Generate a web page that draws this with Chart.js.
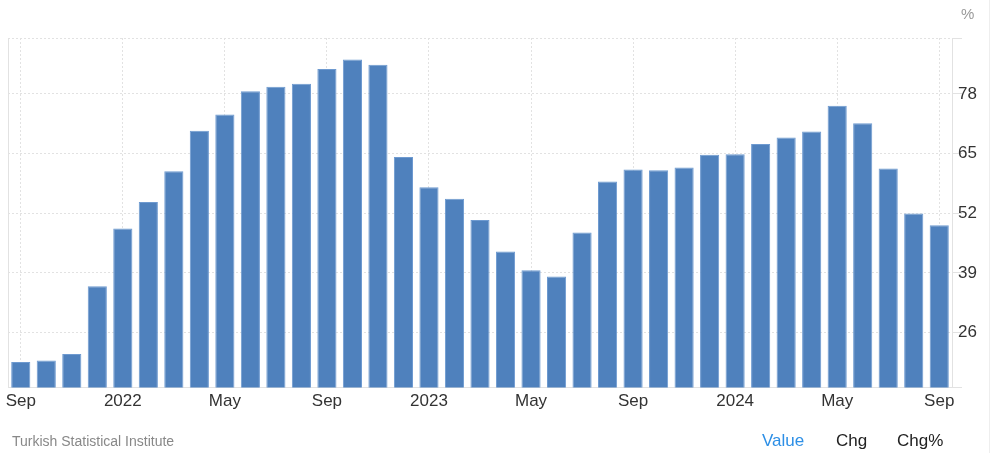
<!DOCTYPE html>
<html>
<head>
<meta charset="utf-8">
<script src="https://cdn.jsdelivr.net/npm/chart.js@4/dist/chart.umd.min.js"></script>
<style>
  html, body { margin: 0; padding: 0; background: #fff; }
  #wrap { position: relative; width: 1000px; height: 453px; font-family: "Liberation Sans", Arial, sans-serif; }
  #wrap canvas { position: absolute; left: 0; top: 0; }
  .txt { position: absolute; white-space: nowrap; }
  #unit { left: 961px; top: 5px; font-size: 15px; color: #999; }
  #source { left: 12px; top: 433px; font-size: 14px; color: #888; }
  #value { left: 762px; top: 431px; font-size: 17px; color: #2d8fe6; }
  #chg { left: 836px; top: 431px; font-size: 17px; color: #222; }
  #chgp { left: 897px; top: 431px; font-size: 17px; color: #222; }
  #edge { position: absolute; left: 989px; top: 0; width: 1px; height: 453px; background: #eee; }
</style>
</head>
<body>
<div id="wrap">
  <canvas id="inflationChart" width="1000" height="453"></canvas>
  <div class="txt" id="unit">%</div>
  <div class="txt" id="source">Turkish Statistical Institute</div>
  <div class="txt" id="value">Value</div>
  <div class="txt" id="chg">Chg</div>
  <div class="txt" id="chgp">Chg%</div>
  <div id="edge"></div>
</div>
<script>
// monthly readings, Sep 2021 - Sep 2024
const months = [
  'Sep 2021', 'Oct 2021', 'Nov 2021', 'Dec 2021',
  'Jan 2022', 'Feb 2022', 'Mar 2022', 'Apr 2022', 'May 2022', 'Jun 2022',
  'Jul 2022', 'Aug 2022', 'Sep 2022', 'Oct 2022', 'Nov 2022', 'Dec 2022',
  'Jan 2023', 'Feb 2023', 'Mar 2023', 'Apr 2023', 'May 2023', 'Jun 2023',
  'Jul 2023', 'Aug 2023', 'Sep 2023', 'Oct 2023', 'Nov 2023', 'Dec 2023',
  'Jan 2024', 'Feb 2024', 'Mar 2024', 'Apr 2024', 'May 2024', 'Jun 2024',
  'Jul 2024', 'Aug 2024', 'Sep 2024'
];
const inflation = [
  19.58, 19.89, 21.31, 36.08,
  48.69, 54.44, 61.14, 69.97, 73.5, 78.62,
  79.6, 80.21, 83.45, 85.51, 84.39, 64.27,
  57.68, 55.18, 50.51, 43.68, 39.59, 38.21,
  47.83, 58.94, 61.53, 61.36, 61.98, 64.77,
  64.86, 67.07, 68.5, 69.8, 75.45, 71.6,
  61.78, 51.97, 49.38
];
// x labels shown every 4th month
const xTickLabels = ['Sep', '2022', 'May', 'Sep', '2023', 'May', 'Sep', '2024', 'May', 'Sep'];
const yTicks = [26, 39, 52, 65, 78];
const yMin = 14;
const yMax = 90.2;

const gridGray = '#e2e2e2';
const fontSpec = { family: '"Liberation Sans", Arial, sans-serif', size: 17 };

// left edge of the plot frame
const leftFrame = {
  id: 'leftFrame',
  beforeDatasetsDraw(chart) {
    const { ctx, chartArea } = chart;
    ctx.save();
    ctx.strokeStyle = gridGray;
    ctx.lineWidth = 1;
    ctx.beginPath();
    ctx.moveTo(chartArea.left + 0.5, chartArea.top);
    ctx.lineTo(chartArea.left + 0.5, chartArea.bottom);
    ctx.stroke();
    ctx.restore();
  }
};

const ctx = document.getElementById('inflationChart').getContext('2d');
new Chart(ctx, {
  type: 'bar',
  data: {
    labels: months,
    datasets: [{
      label: 'Inflation Rate',
      data: inflation,
      backgroundColor: '#4f81bd',
      borderColor: '#6e9ad0',
      borderWidth: 1,
      barPercentage: 0.75,
      categoryPercentage: 1
    }]
  },
  options: {
    responsive: false,
    animation: false,
    layout: { padding: { left: 8, right: 0, top: 38, bottom: 37 } },
    plugins: {
      legend: { display: false },
      tooltip: { enabled: false }
    },
    scales: {
      x: {
        grid: {
          offset: false,
          drawTicks: false,
          color: (c) => (c.index % 4 === 0 ? gridGray : 'rgba(0,0,0,0)')
        },
        border: { color: gridGray, dash: [2, 2] },
        ticks: {
          autoSkip: false,
          maxRotation: 0,
          padding: 4,
          color: '#333',
          font: fontSpec,
          callback: (v, i) => (i % 4 === 0 ? xTickLabels[i / 4] : '')
        }
      },
      y: {
        position: 'right',
        min: yMin,
        max: yMax,
        afterBuildTicks: (axis) => {
          axis.ticks = [yMin].concat(yTicks, [yMax]).map(v => ({ value: v }));
        },
        afterFit: (axis) => { axis.width = 48; },
        grid: {
          color: gridGray,
          tickLength: 10,
          tickColor: gridGray
        },
        border: { color: gridGray, dash: [2, 2] },
        ticks: {
          padding: -4,
          color: '#333',
          font: fontSpec,
          callback: (v) => (yTicks.includes(v) ? v : '')
        }
      }
    }
  },
  plugins: [leftFrame]
});
</script>
</body>
</html>
